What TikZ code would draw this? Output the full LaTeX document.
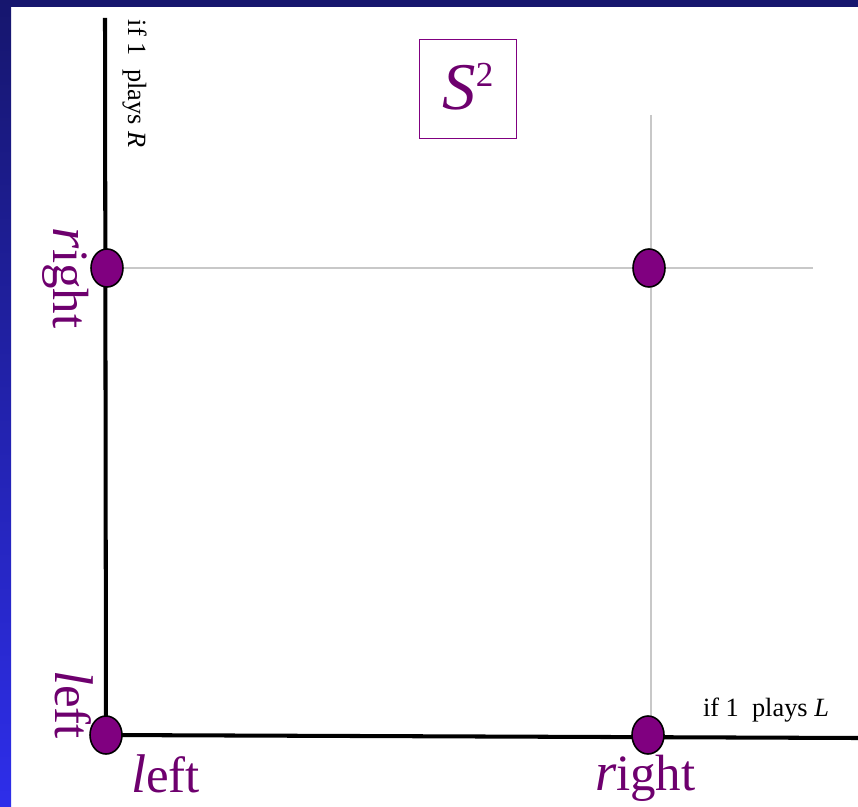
\documentclass[tikz,border=0pt]{standalone}
\usepackage{fontspec}
\setmainfont{Liberation Serif}
\usetikzlibrary{shapes.geometric,backgrounds}
\definecolor{plum}{HTML}{800080}
\definecolor{plumtext}{HTML}{6E006E}
\definecolor{navy}{HTML}{16166E}
\definecolor{royal}{HTML}{2E2EEA}
\definecolor{guidegray}{HTML}{C8C8C8}

\newcommand{\stratlabel}[2]{{\fontsize{31}{32}\selectfont\itshape #1}{\fontsize{29}{30}\selectfont #2}}

\begin{document}
\begin{tikzpicture}[x=0.02cm,y=-0.02cm,every node/.style={inner sep=0pt,outer sep=0pt}]
  \tikzset{
    dot/.style={ellipse,draw=black,line width=0.9pt,fill=plum,minimum width=0.64cm,minimum height=0.76cm},
    axis/.style={line width=2.3pt,black},
    guide/.style={line width=0.7pt,guidegray},
    stratname/.style={text=plumtext,anchor=base west},
    ifnote/.style={font=\fontsize{15}{16}\selectfont,anchor=base west}
  }
  \useasboundingbox (0,0) rectangle (858,807);
  % slide frame
  \fill[navy] (0,0) rectangle (858,7);
  \shade[top color=navy,bottom color=royal] (0,0) rectangle (11,807);

  % strategy profiles
  \node[dot] (ll) at (106,735) {};
  \node[dot] (rl) at (648,735) {};
  \node[dot] (lr) at (107,268) {};
  \node[dot] (rr) at (649,268) {};
  \coordinate (ytop) at (105,18);
  \coordinate (xend) at (858,738);
  \coordinate (gtop) at (651,115);
  \coordinate (gend) at (813,268);

  \begin{scope}[on background layer]
    \draw[guide] (lr.center) -- (gend);
    \draw[guide] (gtop) -- (gtop |- rl.center);
    \draw[axis] (ytop) -- (ll.center) -- (xend);
  \end{scope}

  % labels
  \node[stratname] (xl) at (131,792) {\stratlabel{l}{eft}};
  \node[stratname] (xr) at (595,790) {\stratlabel{r}{ight}};
  \node[stratname,rotate=-90] (yl) at (55,670) {\stratlabel{l}{eft}};
  \node[stratname,rotate=-90] (yr) at (53,228) {\stratlabel{r}{ight}};
  \node[ifnote] (ifl) at (703,716) {if 1\ \ plays \textit{L}};
  \node[ifnote,rotate=-90] (ifr) at (128,20) {if 1\ \ plays \textit{R}};

  \node[draw=plum,line width=1.1pt,minimum width=1.94cm,minimum height=1.98cm,text=plumtext] (s2) at (468,89)
    {\raisebox{3pt}{\fontsize{38}{40}\selectfont\itshape S\raisebox{13pt}{\upshape\fontsize{20}{21}\selectfont 2}}};
\end{tikzpicture}
\end{document}
